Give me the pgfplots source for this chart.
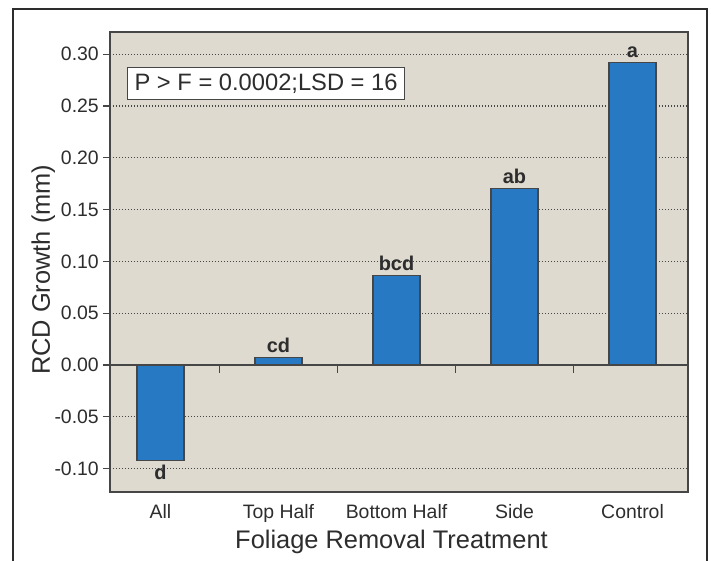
\documentclass[border=0pt]{standalone}
\usepackage{pgfplots}
\pgfplotsset{compat=1.18}
\usepackage{fontspec}
\setmainfont{Liberation Sans}
\definecolor{bg}{RGB}{223,218,208}
\definecolor{barblue}{RGB}{38,121,194}
\definecolor{edge}{RGB}{70,70,70}
\definecolor{txt}{RGB}{45,45,45}
\begin{document}
\begin{tikzpicture}
\useasboundingbox (-110bp,-69bp) rectangle (601bp,492bp);
\draw[line width=2.5bp, color=txt] (-97bp,-70bp) -- (-97bp,483bp) -- (597bp,483bp) -- (597bp,-70bp);
\begin{axis}[
  at={(0,0)}, anchor=south west,
  scale only axis, width=578bp, height=460bp,
  xmin=-0.428, xmax=4.47, ymin=-0.1226, ymax=0.3214,
  axis background/.style={fill=bg},
  axis line style={edge, line width=1.5bp},
  ytick={-0.10,-0.05,0,0.05,0.10,0.15,0.20,0.25,0.30},
  yticklabels={-0.10,-0.05,0.00,0.05,0.10,0.15,0.20,0.25,0.30},
  xtick={0,1,2,3,4},
  xticklabels={All,Top Half,Bottom Half,Side,Control},
  ymajorgrids,
  grid style={edge, line width=1.2bp, dash pattern=on 1.2bp off 1.8bp},
  tick align=outside,
  ytick pos=left, xtick pos=bottom,
  major tick length=7bp,
  y tick style={edge, line width=1.3bp},
  x tick style={draw=none},
  tick label style={font=\fontsize{19.5}{22}\selectfont, text=txt},
  xticklabel style={yshift=-2bp},
  yticklabel style={inner sep=2bp, xshift=-2bp},
  xlabel={Foliage Removal Treatment},
  ylabel={RCD Growth (mm)},
  label style={font=\fontsize{25.5}{30}\selectfont, text=txt},
  xlabel style={at={(rel axis cs:0.487,0)}, anchor=base, yshift=-56bp},
  ylabel style={at={(rel axis cs:0,0.483)}, anchor=base, rotate=0, yshift=60bp},
  clip=false,
]
\addplot[ybar, bar width=47bp, bar shift=0pt, fill=barblue, draw=edge, line width=1.2bp,
  nodes near coords, point meta=explicit symbolic,
  every node near coord/.append style={font=\bfseries\fontsize{20}{22}\selectfont, text=txt, inner sep=4.5bp, anchor=south}]
  table[x=x, y=y, meta=lab] {
x y lab
1 0.007 cd
2 0.086 bcd
3 0.170 ab
4 0.292 a
};
\addplot[ybar, bar width=47bp, bar shift=0pt, fill=barblue, draw=edge, line width=1.2bp,
  nodes near coords, point meta=explicit symbolic,
  every node near coord/.append style={font=\bfseries\fontsize{20}{22}\selectfont, text=txt, inner sep=4.5bp, anchor=north}]
  table[x=x, y=y, meta=lab] {
x y lab
0 -0.092 d
};
\draw[edge, line width=1.5bp] (axis cs:-0.428,0) -- (axis cs:4.47,0);
\draw[edge, line width=1.3bp] (axis cs:0.5,0) -- ([yshift=-8bp]axis cs:0.5,0);
\draw[edge, line width=1.3bp] (axis cs:1.5,0) -- ([yshift=-8bp]axis cs:1.5,0);
\draw[edge, line width=1.3bp] (axis cs:2.5,0) -- ([yshift=-8bp]axis cs:2.5,0);
\draw[edge, line width=1.3bp] (axis cs:3.5,0) -- ([yshift=-8bp]axis cs:3.5,0);
\node[draw=edge, fill=white, line width=1.2bp, anchor=north west, inner xsep=7bp,
  minimum height=32bp, font=\fontsize{23.8}{26}\selectfont, text=txt]
  at ([shift={(17bp,425bp)}]rel axis cs:0,0) {P > F = 0.0002;LSD = 16};
\end{axis}
\end{tikzpicture}
\end{document}
